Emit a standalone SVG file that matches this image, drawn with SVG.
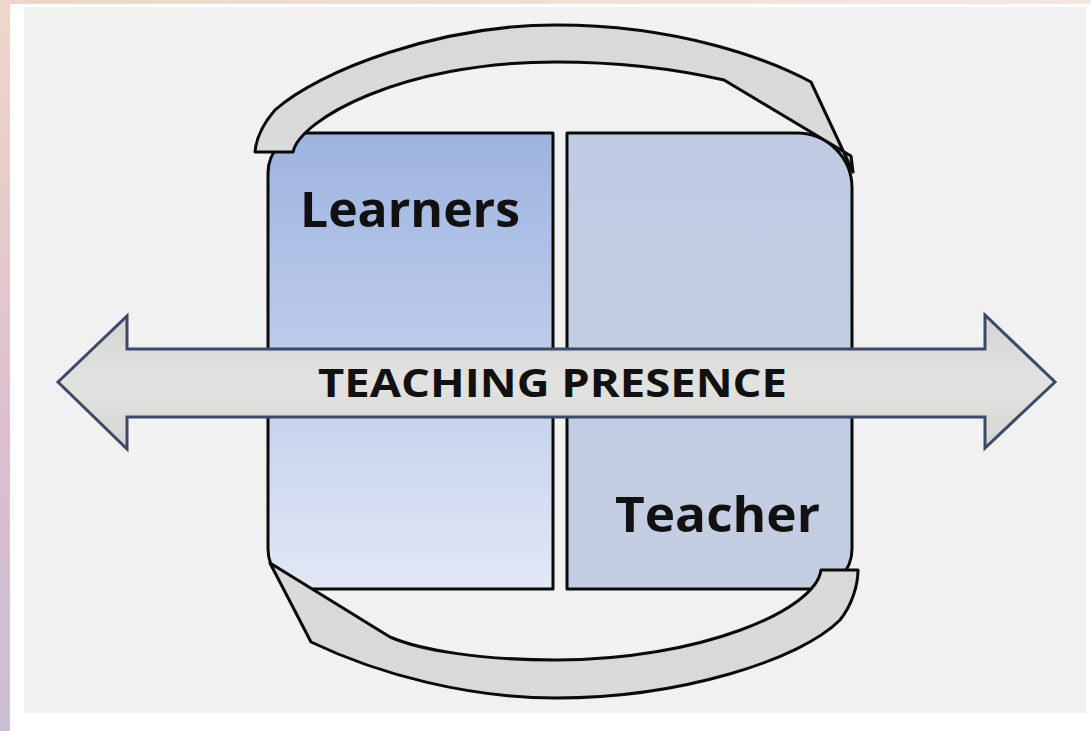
<svg xmlns="http://www.w3.org/2000/svg" width="1091" height="731" viewBox="0 0 1091 731">
<defs>
<linearGradient id="edgeV" x1="0" y1="0" x2="0" y2="1">
<stop offset="0" stop-color="#eed7c9"/><stop offset="0.6" stop-color="#dcbfcf"/><stop offset="1" stop-color="#cabfd4"/>
</linearGradient>
<linearGradient id="edgeH" x1="0" y1="0" x2="1" y2="0">
<stop offset="0" stop-color="#edd6c9"/><stop offset="1" stop-color="#f4e8e2"/>
</linearGradient>
<linearGradient id="learnFill" x1="0" y1="0" x2="0" y2="1">
<stop offset="0" stop-color="#9db3e0"/><stop offset="1" stop-color="#e1e7f5"/>
</linearGradient>
<linearGradient id="teachFill" x1="0" y1="0" x2="0" y2="1">
<stop offset="0" stop-color="#c0cbe3"/><stop offset="1" stop-color="#c4cee2"/>
</linearGradient>
<linearGradient id="arrowFill" x1="0" y1="0" x2="0" y2="1">
<stop offset="0" stop-color="#d3d3d3"/><stop offset="0.5" stop-color="#e2e2df"/><stop offset="1" stop-color="#d5d5d5"/>
</linearGradient>
<style>
.panel{stroke:#0a0a0a;stroke-width:3;stroke-linejoin:round}
.band{fill:#d9d9d9;stroke:#0a0a0a;stroke-width:3;stroke-linejoin:round}
.label{font-family:"Open Sans","Liberation Sans",sans-serif;font-weight:bold;fill:#111}
</style>
</defs>
<rect width="1091" height="731" fill="#ffffff"/>
<rect x="0" y="0" width="1091" height="4" fill="url(#edgeH)"/>
<rect x="0" y="0" width="10" height="731" fill="url(#edgeV)"/>
<rect x="24" y="7" width="1062" height="706" fill="#f1f1f1"/>

<g id="learners">
<path class="panel" fill="url(#learnFill)" d="M308,133 L553,133 L553,589 L308,589 A40,40 0 0 1 268,549 L268,173 A40,40 0 0 1 308,133 Z"/>
<text class="label" x="300" y="227" font-size="48" textLength="220" lengthAdjust="spacingAndGlyphs">Learners</text>
</g>
<g id="teacher">
<path class="panel" fill="url(#teachFill)" d="M567,133 L797,133 A55,55 0 0 1 852,188 L852,549 A40,40 0 0 1 812,589 L567,589 Z"/>
<text class="label" x="615" y="532" font-size="48" textLength="205" lengthAdjust="spacingAndGlyphs">Teacher</text>
</g>

<g id="connectors">
<g id="cycle-top">
<path class="band" d="M255,152 L293,152 C300,120 400,62 556,62 C620,62 680,70 724,80 L851,156 L853,172 L811,82 C770,60 680,25 556,25 C440,25 320,70 275,110 C262,125 256,140 255,152 Z"/>
</g>
<g id="cycle-bottom">
<path class="band" d="M270,563 L311,642 C380,675 470,698 556,698 C680,698 800,660 840,620 C852,605 858,585 858,570 L821,570 C816,610 700,660 556,660 C480,660 420,650 390,637 Z"/>
</g>
</g>

<g id="teaching-presence">
<path fill="url(#arrowFill)" stroke="#3b4a68" stroke-width="3" stroke-linejoin="miter" d="M58,382 L127,316 L127,349 L985,349 L985,315 L1055,382 L985,448 L985,417 L127,417 L127,449 Z"/>
<text class="label" x="318" y="397" font-size="40" textLength="469" lengthAdjust="spacingAndGlyphs">TEACHING PRESENCE</text>
</g>
</svg>
